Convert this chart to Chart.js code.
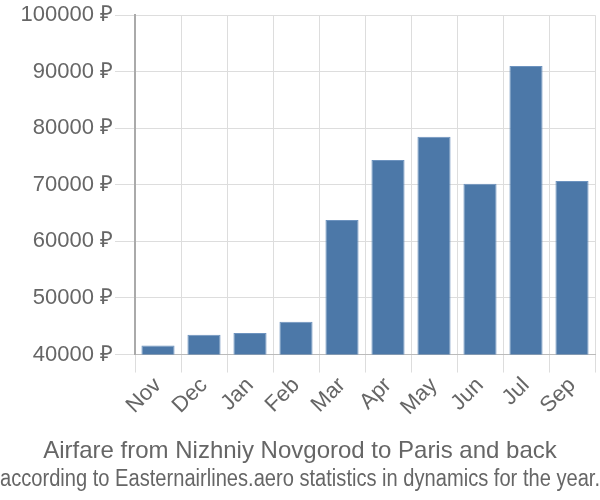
<!DOCTYPE html>
<html><head><meta charset="utf-8">
<script src="https://cdn.jsdelivr.net/npm/chart.js@4/dist/chart.umd.min.js"></script>
<style>html,body{margin:0;padding:0;background:#fff}#w{width:600px;height:500px}</style>
</head><body><div id="w"><canvas id="c"></canvas></div>
<script>
const categories = ["Nov","Dec","Jan","Feb","Mar","Apr","May","Jun","Jul","Sep"];
const prices = [41600, 43500, 43800, 45800, 63800, 74400, 78500, 70200, 91000, 70700];
const titleText = "Airfare from Nizhniy Novgorod to Paris and back";
const subtitleText = "according to Easternairlines.aero statistics in dynamics for the year.";
const FONT = "'Liberation Sans', Arial, sans-serif";
new Chart(document.getElementById('c'), {
  type: 'bar',
  data: { labels: categories, datasets: [{ data: prices, backgroundColor: '#4c78a8', borderColor: '#6d93bf', borderWidth: 1, barPercentage: 0.72, categoryPercentage: 1 }] },
  options: {
    responsive: true, maintainAspectRatio: false, animation: false,
    layout: { padding: { left: 0, right: 0, top: 4, bottom: 3 } },
    plugins: {
      legend: { display: false }, tooltip: { enabled: false },
      title: { display: true, weight: 1000, text: titleText, position: 'bottom', color: '#666', font: { family: FONT, size: 24, weight: 'normal' }, padding: { top: 16, bottom: 0 } },
      subtitle: { display: true, weight: 2500, text: subtitleText, position: 'bottom', color: '#666', font: { family: FONT, size: 23, weight: 'normal' }, padding: { top: 0, bottom: 4 } }
    },
    scales: {
      x: { grid: { color: '#ddd', tickLength: 18, offset: true }, border: { color: '#bbb', width: 1 },
           afterFit: s => { s.paddingRight = 5; },
           ticks: { color: '#666', font: { family: FONT, size: 22 }, maxRotation: 45, minRotation: 45, padding: 0 } },
      y: { min: 40000, max: 100000, grid: { color: '#ddd', tickLength: 20 }, border: { color: '#aaa', width: 2 },
           afterFit: s => { s.width = 135; },
           ticks: { stepSize: 10000, color: '#666', font: { family: FONT, size: 22 }, padding: 2, callback: v => v + ' ₽' } }
    }
  }
});
</script></body></html>
